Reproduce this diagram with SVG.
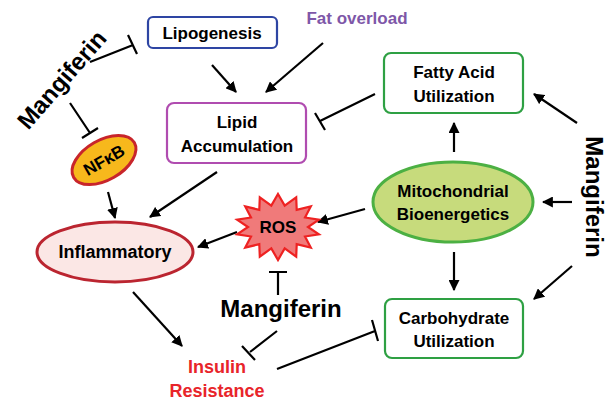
<svg xmlns="http://www.w3.org/2000/svg" width="614" height="408" viewBox="0 0 614 408">
<defs>
<marker id="ah" viewBox="0 0 10 10" refX="9" refY="5" markerWidth="5" markerHeight="5" orient="auto"><path d="M0,0 L10,5 L0,10 Z" fill="#000"/></marker>
<style>
text{font-family:"Liberation Sans",Arial,sans-serif;font-weight:bold;text-anchor:middle}
.l{font-size:17px;fill:#000}
.m{font-size:24px;fill:#000}
.c line,.c path{stroke:#000;stroke-width:2.2;fill:none}
.a{marker-end:url(#ah)}
.box{fill:#fff;stroke-width:2.2}
</style>
</defs>
<rect width="614" height="408" fill="#fff"/>
<g class="c" id="connectors">
<line class="a" x1="212" y1="65" x2="236" y2="92"/>
<line class="a" x1="323" y1="43" x2="266" y2="92"/>
<path d="M375,94 L320,121 M315,113 L325,130"/>
<line class="a" x1="217" y1="172" x2="150" y2="217"/>
<line class="a" x1="108" y1="192" x2="115" y2="218"/>
<path d="M90,62 L133,45 M128,35 L137,54"/>
<path d="M70,103 L90,133 M82,138 L98,128"/>
<line class="a" x1="454" y1="152" x2="454" y2="123"/>
<line class="a" x1="577" y1="123" x2="534" y2="94"/>
<line class="a" x1="572" y1="202" x2="543" y2="202"/>
<line class="a" x1="572" y1="266" x2="534" y2="299"/>
<line class="a" x1="454" y1="252" x2="454" y2="290"/>
<line class="a" x1="365" y1="209" x2="318" y2="222"/>
<line class="a" x1="237" y1="232" x2="198" y2="247"/>
<line class="a" x1="133" y1="292" x2="182" y2="346"/>
<path d="M278,295 L278,272 M269,272 L287,272"/>
<path d="M277,331 L250,352 M242,346 L255,360"/>
<path d="M277,369 L375,331 M372,320 L378,341"/>
</g>
<g id="lipogenesis"><rect class="box" x="148" y="17" width="129" height="31" rx="5" stroke="#2e45a3"/><text class="l" x="212" y="39">Lipogenesis</text></g>
<g id="fat-overload"><text class="l" x="357" y="24" fill="#7e57a8" style="fill:#7e57a8">Fat overload</text></g>
<g id="lipid"><rect class="box" x="167" y="103" width="139" height="60" rx="7" stroke="#b04cb0"/><text class="l" x="237" y="128">Lipid</text><text class="l" x="237" y="152">Accumulation</text></g>
<g id="fatty-acid"><rect class="box" x="384" y="53" width="139" height="60" rx="7" stroke="#2ea043"/><text class="l" x="454" y="78">Fatty Acid</text><text class="l" x="454" y="102">Utilization</text></g>
<g id="carbohydrate"><rect class="box" x="385" y="299" width="138" height="59" rx="7" stroke="#2ea043"/><text class="l" x="454" y="324">Carbohydrate</text><text class="l" x="454" y="347">Utilization</text></g>
<g id="mito"><ellipse cx="453" cy="202" rx="80" ry="40" fill="#c7db7c" stroke="#4cb043" stroke-width="3"/><text class="l" x="453" y="197">Mitochondrial</text><text class="l" x="453" y="220">Bioenergetics</text></g>
<g id="ros"><polygon points="278,194 284.7,205.6 296.2,197.3 296.7,209.8 310.8,206.4 305,217.5 318.9,219.7 308,227 318.9,234.3 305,236.5 310.8,247.6 296.7,244.2 296.2,256.7 284.7,248.4 278,260 271.3,248.4 259.8,256.7 259.3,244.2 245.2,247.6 251,236.5 237.1,234.3 248,227 237.1,219.7 251,217.5 245.2,206.4 259.3,209.8 259.8,197.3 271.3,205.6" fill="#f07a7a" stroke="#ee2222" stroke-width="2.2"/><text class="l" x="278" y="233">ROS</text></g>
<g id="inflammatory"><ellipse cx="115" cy="252" rx="78" ry="30" fill="#fbe7e5" stroke="#bb2530" stroke-width="3"/><text class="l" x="115" y="258" style="font-size:18px">Inflammatory</text></g>
<g id="nfkb"><ellipse cx="104" cy="160" rx="35" ry="20" transform="rotate(-30 104 160)" fill="#f7b81c" stroke="#c8252b" stroke-width="3"/><text class="l" x="104" y="166" transform="rotate(-30 104 160)">NFκB</text></g>
<g id="insulin"><text class="l" x="217" y="373" style="fill:#e8242a;font-size:18px">Insulin</text><text class="l" x="217" y="397" style="fill:#e8242a;font-size:18px">Resistance</text></g>
<g id="mangiferin-left"><text class="m" transform="translate(68,85) rotate(-49)">Mangiferin</text></g>
<g id="mangiferin-right"><text class="m" transform="translate(586,197) rotate(90)">Mangiferin</text></g>
<g id="mangiferin-bottom"><text class="m" x="281" y="317">Mangiferin</text></g>
</svg>
